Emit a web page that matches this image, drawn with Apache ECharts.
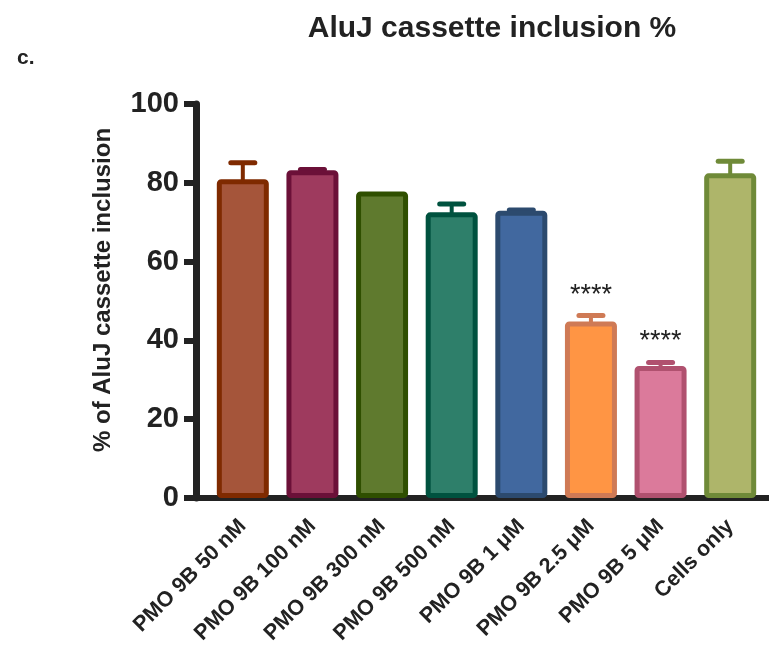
<!DOCTYPE html>
<html>
<head>
<meta charset="utf-8">
<script src="https://cdn.jsdelivr.net/npm/echarts@6/dist/echarts.min.js"></script>
<style>html,body{margin:0;padding:0;background:#fff}#c{width:769px;height:648px}</style>
</head>
<body>
<div id="c"></div>
<script>
const categories = ['PMO 9B 50 nM','PMO 9B 100 nM','PMO 9B 300 nM','PMO 9B 500 nM','PMO 9B 1 μM','PMO 9B 2.5 μM','PMO 9B 5 μM','Cells only'];
const means = [80.9, 83.2, 77.8, 72.5, 72.9, 44.8, 33.5, 82.4];
const errUpper = [85.1, 83.4, 77.8, 74.6, 73.1, 46.3, 34.4, 85.5];
const signif = ['', '', '', '', '', '****', '****', ''];
const yTicks = [0, 20, 40, 60, 80, 100];
const fills = ['#A5553A','#9E3A5E','#5F7A2E','#2E7F6A','#41689F','#FF9544','#DB7A9B','#AEB56A'];
const borders = ['#7F2A00','#6B1038','#2F4F00','#00523F','#2C4A6E','#CF7A55','#B0516F','#6F8A38'];

const FONT = '"Liberation Sans", Arial, Helvetica, sans-serif';
const chart = echarts.init(document.getElementById('c'));
const barData = means.map((v, i) => ({
  value: v,
  itemStyle: { color: fills[i], borderColor: borders[i], borderWidth: 5, borderRadius: 2 }
}));
const errData = means.map((v, i) => [i, v, errUpper[i]]);

chart.setOption({
  animation: false,
  title: [
    { text: 'AluJ cassette inclusion %', left: 487, top: 9, textAlign: 'center',
      textStyle: { fontFamily: FONT, fontSize: 30, fontWeight: 'bold', color: '#222' } },
    { text: 'c.', left: 12, top: 43,
      textStyle: { fontFamily: FONT, fontSize: 21, fontWeight: 'bold', color: '#222' } }
  ],
  grid: { left: 208, right: 4, top: 104, bottom: 150, containLabel: false },
  xAxis: {
    type: 'category', data: categories,
    axisLine: { lineStyle: { color: '#222', width: 6 } },
    axisTick: { alignWithLabel: true, length: 13, lineStyle: { color: '#222', width: 5 } },
    axisLabel: { rotate: 45, margin: 25, interval: 0, fontFamily: FONT, fontSize: 21.5, fontWeight: 'bold', color: '#222' }
  },
  yAxis: {
    type: 'value', min: 0, max: 100, interval: 20, offset: 12,
    name: '% of AluJ cassette inclusion', nameLocation: 'middle', nameGap: 81, nameRotate: 90,
    nameTextStyle: { fontFamily: FONT, fontSize: 24, fontWeight: 'bold', color: '#222', padding: [0, 0, 0, 22] },
    splitLine: { show: false },
    axisLine: { show: true, lineStyle: { color: '#222', width: 7 } },
    axisTick: { show: true, length: 12, lineStyle: { color: '#222', width: 6 } },
    axisLabel: { margin: 17, fontFamily: FONT, fontSize: 29, fontWeight: 'bold', color: '#222',
      formatter: v => yTicks.includes(v) ? String(v) : '' }
  },
  graphic: [
    { type: 'line', shape: { x1: 193, y1: 498, x2: 210, y2: 498 }, style: { stroke: '#222', lineWidth: 6 }, z: 10 },
    { type: 'line', shape: { x1: 760, y1: 498, x2: 769, y2: 498 }, style: { stroke: '#222', lineWidth: 6 }, z: 10 }
  ],
  series: [
    { type: 'bar', data: barData, barWidth: 52, z: 2 },
    {
      type: 'custom', data: errData, z: 1,
      renderItem: function (params, api) {
        const i = api.value(0);
        const base = api.coord([i, api.value(1)]);
        const top = api.coord([i, api.value(2)]);
        const col = borders[i];
        const children = [];
        if (api.value(2) > api.value(1)) {
          children.push({ type: 'line', shape: { x1: base[0], y1: base[1] + 3, x2: top[0], y2: top[1] }, style: { stroke: col, lineWidth: 4 } });
          children.push({ type: 'line', shape: { x1: top[0] - 12, y1: top[1], x2: top[0] + 12, y2: top[1] }, style: { stroke: col, lineWidth: 5, lineCap: 'round' } });
        }
        if (signif[i]) {
          children.push({ type: 'text', style: { text: signif[i], x: top[0], y: top[1] - 7, align: 'center', verticalAlign: 'bottom', font: '27px ' + FONT, fill: '#222' } });
        }
        return { type: 'group', children: children };
      }
    }
  ]
});
</script>
</body>
</html>
